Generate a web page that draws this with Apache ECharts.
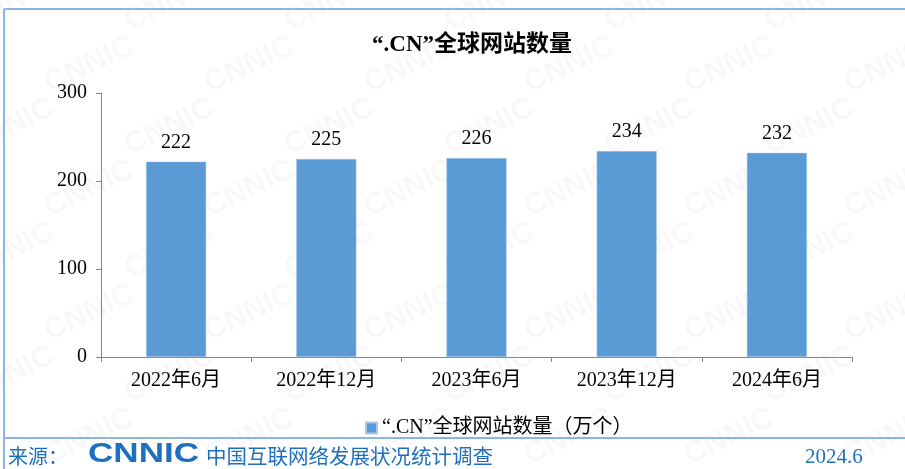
<!DOCTYPE html>
<html>
<head>
<meta charset="utf-8">
<script src="https://cdn.jsdelivr.net/npm/echarts@6/dist/echarts.min.js"></script>
<style>
  html, body { margin: 0; padding: 0; background: #fff; }
  #chart { width: 905px; height: 469px; }
</style>
</head>
<body>
<div id="chart"></div>
<script>
// Data
const categories = ["2022年6月", "2022年12月", "2023年6月", "2023年12月", "2024年6月"];
const siteCounts = [222, 225, 226, 234, 232];
const seriesName = "“.CN”全球网站数量（万个）";
const yTicks = { min: 0, max: 300, interval: 100 };

const serif = "'Liberation Serif', 'Noto Sans CJK SC', serif";
const footBlue = "#1f6fbf";
const frameBlue = "#8eb4e3";

// faint CNNIC watermark tiles
function watermark() {
  const items = [];
  for (let row = 0; row < 8; row++) {
    for (let col = 0; col < 7; col++) {
      items.push({
        type: "text",
        x: col * 160 + (row % 2) * 80 - 40,
        y: row * 62 + 10,
        rotation: Math.PI / 7,
        silent: true,
        z: -10,
        style: {
          text: "CNNIC",
          fill: "rgba(0,0,0,0.028)",
          font: "bold 30px 'Liberation Sans', sans-serif"
        }
      });
    }
  }
  return items;
}

const chart = echarts.init(document.getElementById("chart"));
chart.setOption({
  backgroundColor: "#fff",
  animation: false,
  title: {
    text: "“.CN”全球网站数量",
    left: 467,
    textAlign: "center",
    top: 29,
    textStyle: { fontFamily: serif, fontSize: 23, fontWeight: "bold", color: "#000" }
  },
  legend: {
    data: [seriesName],
    left: 360,
    top: 413,
    icon: "rect",
    itemWidth: 11,
    itemHeight: 11,
    itemGap: 3,
    textStyle: { fontFamily: serif, fontSize: 20, color: "#000" }
  },
  grid: { left: 101, right: 53, top: 93, bottom: 112 },
  xAxis: {
    type: "category",
    data: categories,
    axisLine: { lineStyle: { color: "#868686" } },
    axisTick: { show: true, length: 5, lineStyle: { color: "#868686" } },
    axisLabel: { fontFamily: serif, fontSize: 20, color: "#000", margin: 14 }
  },
  yAxis: {
    type: "value",
    min: yTicks.min,
    max: yTicks.max,
    interval: yTicks.interval,
    splitLine: { show: false },
    axisLine: { show: true, lineStyle: { color: "#868686" } },
    axisTick: { show: true, length: 5, lineStyle: { color: "#868686" } },
    axisLabel: { fontFamily: serif, fontSize: 20, color: "#000", margin: 14 }
  },
  series: [{
    name: seriesName,
    type: "bar",
    data: siteCounts,
    barWidth: "40%",
    itemStyle: { color: "#5b9bd5", borderColor: "#a9c8e8", borderWidth: 0.5 },
    label: {
      show: true,
      position: "top",
      distance: 9,
      fontFamily: serif,
      fontSize: 20,
      color: "#000"
    }
  }],
  graphic: [
    ...watermark(),
    // frame lines
    { type: "line", shape: { x1: 4, y1: 9, x2: 905, y2: 9 }, style: { stroke: frameBlue, lineWidth: 2 }, silent: true },
    { type: "line", shape: { x1: 4, y1: 9, x2: 4, y2: 469 }, style: { stroke: frameBlue, lineWidth: 2 }, silent: true },
    { type: "line", shape: { x1: 4, y1: 438, x2: 905, y2: 438 }, style: { stroke: frameBlue, lineWidth: 2 }, silent: true },
    // footer
    { type: "text", left: 8, top: 446, style: { text: "来源：", fill: footBlue, font: "20px 'Noto Sans CJK SC', sans-serif" } },
    { type: "text", x: 88, y: 441, scaleX: 1.3, style: { text: "CNNIC", fill: footBlue, font: "bold 27px 'Liberation Sans', sans-serif" } },
    { type: "text", left: 206, top: 446, style: { text: "中国互联网络发展状况统计调查", fill: footBlue, font: "20.5px 'Noto Sans CJK SC', sans-serif" } },
    { type: "text", left: 805, top: 447, style: { text: "2024.6", fill: footBlue, font: "21px 'Liberation Serif', serif" } }
  ]
});
</script>
</body>
</html>
